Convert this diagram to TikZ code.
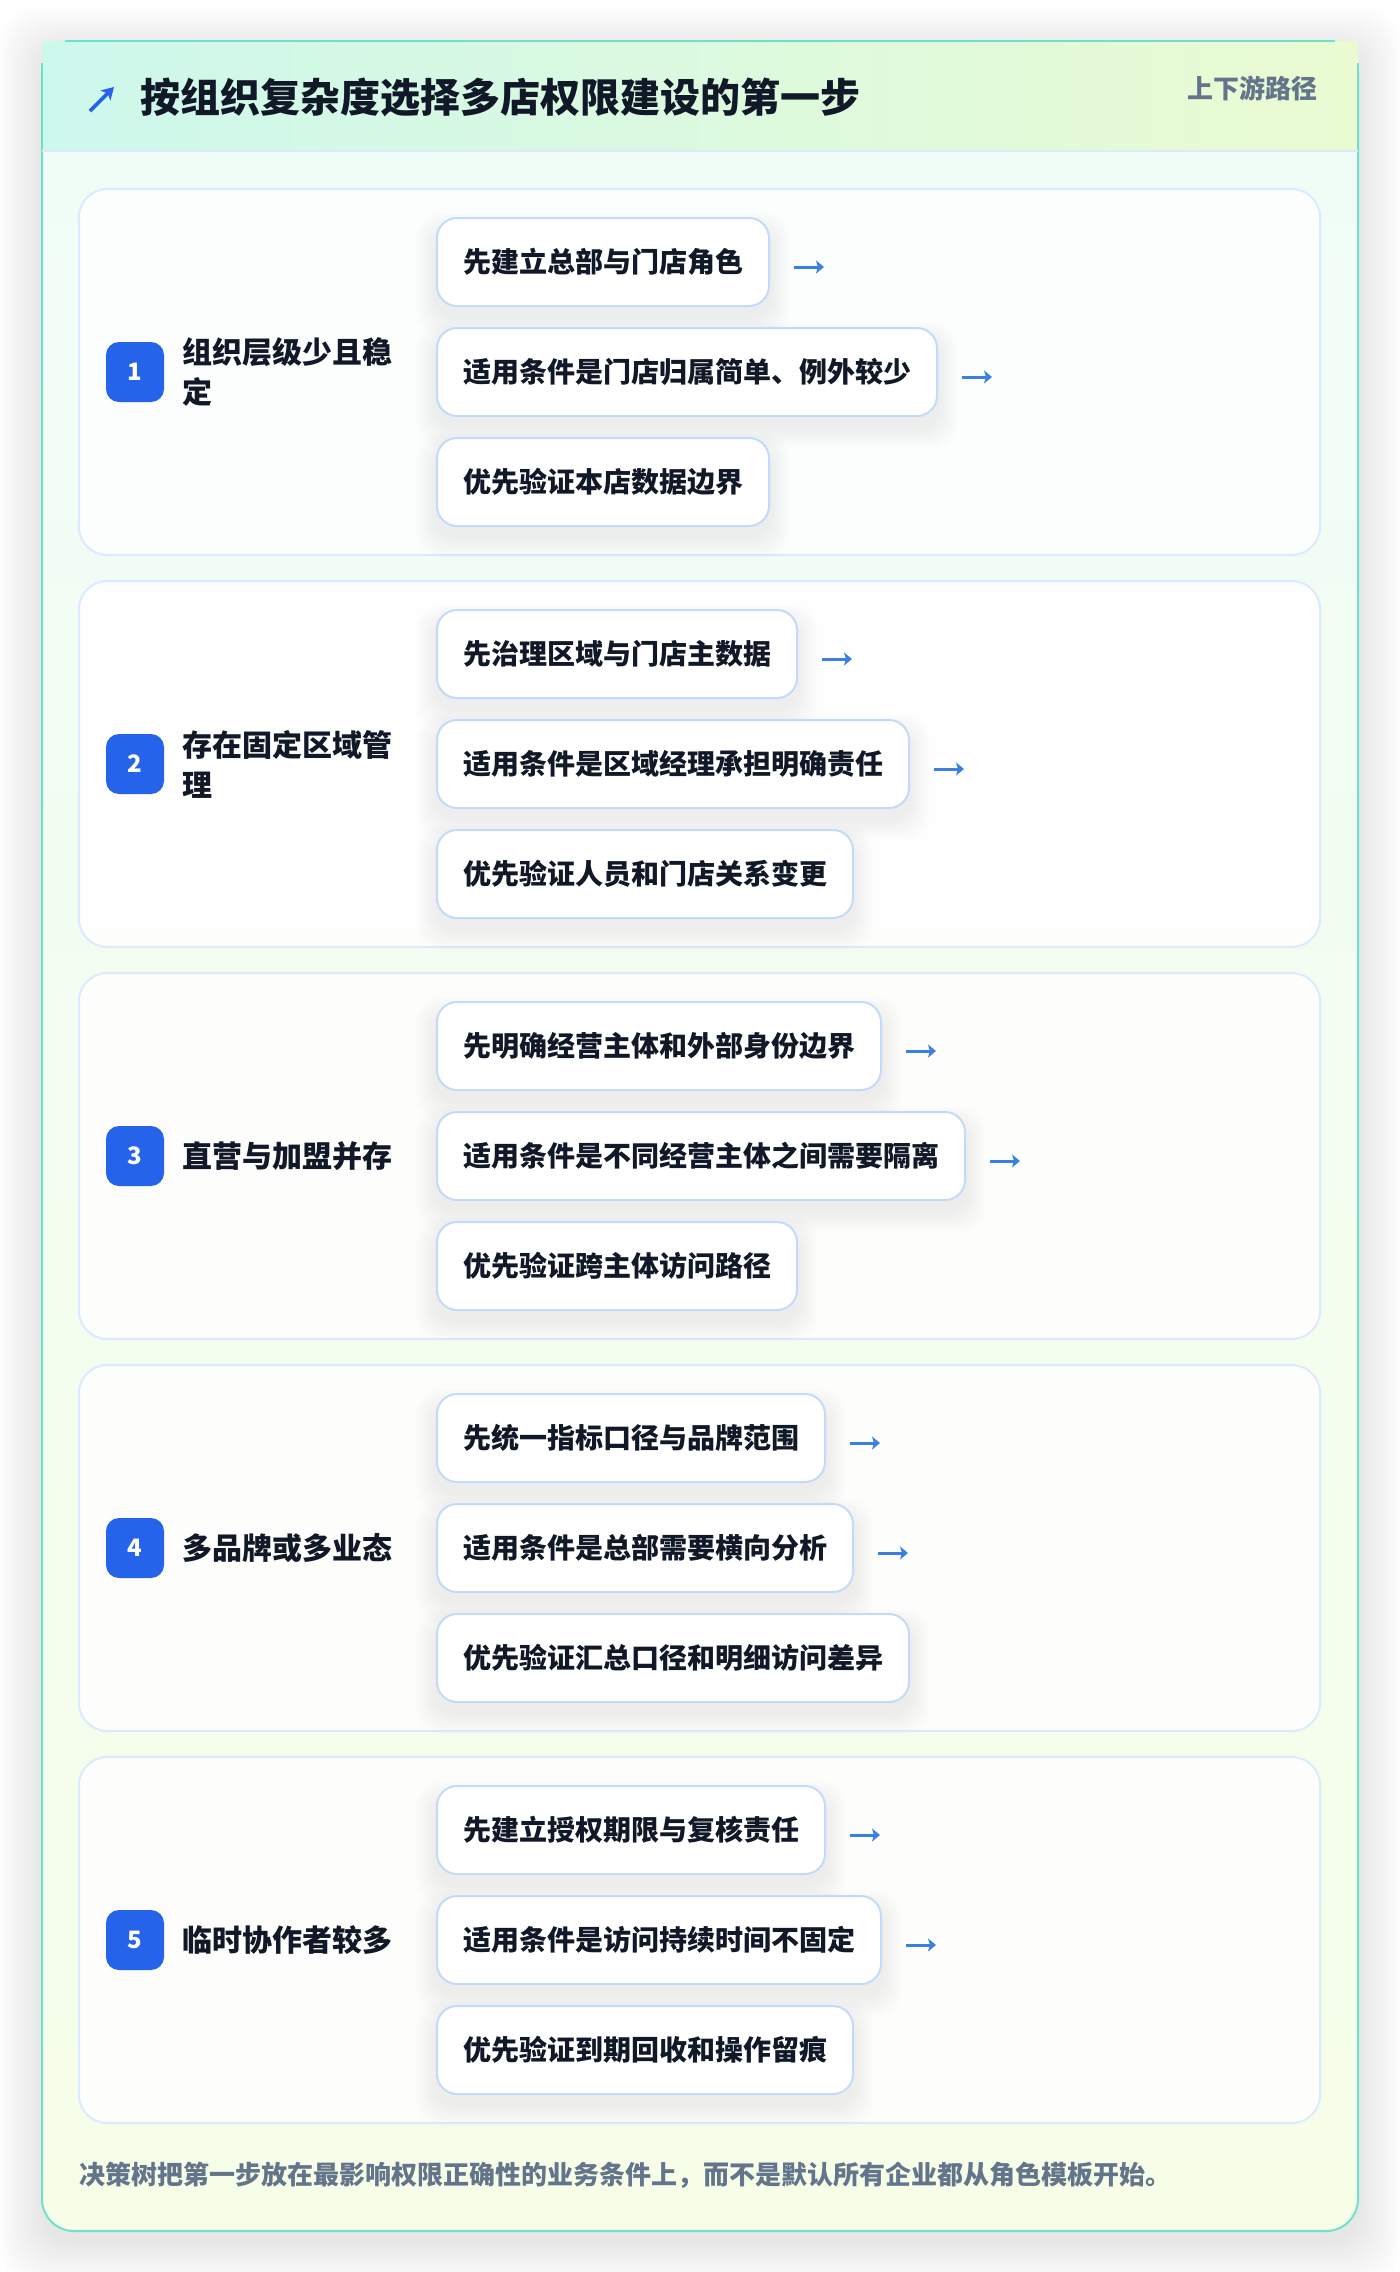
\documentclass[tikz,border=0pt]{standalone}
\usepackage{fontspec}
\setmainfont{Noto Sans CJK SC}
\usetikzlibrary{arrows.meta}
\definecolor{tealb}{HTML}{6EE0CC}
\definecolor{hdrL}{HTML}{CDF8EC}
\definecolor{hdrR}{HTML}{EAFBD2}
\definecolor{bodyT}{HTML}{F0FDF8}
\definecolor{bodyB}{HTML}{F6FEE8}
\definecolor{hdrline}{HTML}{DCEAFB}
\definecolor{cardb}{HTML}{DBEAFE}
\definecolor{optb}{HTML}{C3DAF8}
\definecolor{bluebadge}{HTML}{2563EB}
\definecolor{arrowc}{HTML}{3B7FE4}
\definecolor{inkc}{HTML}{111827}
\definecolor{grayc}{HTML}{64748B}
\definecolor{shadowc}{HTML}{0F172A}
\pgfdeclarelayer{base}
\pgfdeclarelayer{cardl}
\pgfdeclarelayer{shadowl}
\pgfsetlayers{base,cardl,shadowl,main}
\tikzset{
  outerbox/.style={draw=tealb, line width=1pt, rounded corners=16pt, top color=bodyT, bottom color=bodyB},
  cardbox/.style={draw=cardb, line width=1pt, rounded corners=14pt, fill=white, fill opacity=0.85, draw opacity=1},
  optbox/.style={draw=optb, line width=1pt, rounded corners=10pt, fill=white, minimum height=44pt, inner xsep=13pt,
    text height=12.3pt, text depth=1.7pt, text=inkc, font=\bfseries\fontsize{14pt}{16pt}\selectfont, anchor=west},
  badgebox/.style={fill=bluebadge, rounded corners=6.5pt, minimum width=29pt, minimum height=30pt, inner sep=0pt,
    text=white, font=\bfseries\fontsize{12pt}{12pt}\selectfont},
  lbltext/.style={anchor=west, align=left, inner sep=0pt, text=inkc, font=\bfseries\fontsize{15pt}{20pt}\selectfont},
  arrowline/.style={draw=arrowc, line width=1.5pt, -{Stealth[length=4pt,width=6.5pt,inset=1pt]}},
  iconarrow/.style={draw=bluebadge, line width=1.8pt, -{Stealth[length=6pt,width=7pt,inset=1.5pt]}},
}
\newcommand\optshadow[1]{%
  \foreach \k in {1,...,8}{%
    \pgfmathsetmacro\ee{\k*1.2}%
    \pgfmathsetmacro\ylo{-\k*1.3-5}%
    \pgfmathsetmacro\yhi{\k*1.0-6}%
    \fill[shadowc, opacity=0.009, rounded corners=12pt]
      ([xshift=-\ee pt, yshift=\ylo pt]#1.south west) rectangle ([xshift=\ee pt, yshift=\yhi pt]#1.north east);
  }%
}
\newcommand\mkcard[6]{%
  \begin{pgfonlayer}{cardl}
  \path[cardbox] (79,{#2-183}) rectangle (1320,{#2+183});
  \end{pgfonlayer}
  \node[badgebox] (n#1) at (135,#2) {#1};
  \node[lbltext] (l#1) at (182,#2) {#3};
  \node[optbox] (b#1a) at (436,{#2-110}) {#4};
  \node[optbox] (b#1b) at (436,#2) {#5};
  \node[optbox] (b#1c) at (436,{#2+110}) {#6};
  \begin{pgfonlayer}{shadowl}
  \optshadow{b#1a}\optshadow{b#1b}\optshadow{b#1c}
  \end{pgfonlayer}
  \draw[arrowline] ([xshift=12pt,yshift=-2.5pt]b#1a.east) coordinate (s#1a) -- ++(15pt,0) coordinate (e#1a);
  \draw[arrowline] ([xshift=12pt,yshift=-2.5pt]b#1b.east) coordinate (s#1b) -- ++(15pt,0) coordinate (e#1b);
}
\begin{document}
\begin{tikzpicture}[x=0.5pt,y=-0.5pt]
\useasboundingbox (0,0) rectangle (1400,2272);
\begin{pgfonlayer}{base}
\fill[white] (0,0) rectangle (1400,2272);
\foreach \k in {1,...,12}{%
  \pgfmathsetmacro\ee{\k*1.8}%
  \fill[shadowc, opacity=0.007, rounded corners=18pt]
    ([xshift=-\ee pt, yshift=-\ee pt - 5pt]42,2231) rectangle ([xshift=\ee pt, yshift=\ee pt - 5pt]1358,41);
}
\path[outerbox] (42,41) rectangle (1358,2231);
\path[left color=hdrL, right color=hdrR] (42,41) rectangle (1358,150);
\draw[tealb, line width=1.2pt] (65,41) -- (1335,41);
\draw[tealb, line width=1pt] (42,63) -- (42,151) (1358,63) -- (1358,151);
\draw[hdrline, line width=1pt] (42,151) -- (1358,151);
\end{pgfonlayer}
\draw[iconarrow] (90,111) coordinate (ic0) -- (114,87) coordinate (ic1);
\node[anchor=west, inner sep=0pt, text=inkc, font=\bfseries\fontsize{20pt}{22pt}\selectfont, text height=17.6pt, text depth=2.4pt] (title) at (140,97) {按组织复杂度选择多店权限建设的第一步};
\node[anchor=east, inner sep=0pt, text=grayc, font=\bfseries\fontsize{13pt}{14pt}\selectfont, text height=11.4pt, text depth=1.6pt] (tag) at (1318,89) {上下游路径};
\mkcard{1}{372}{组织层级少且稳\\定}{先建立总部与门店角色}{适用条件是门店归属简单、例外较少}{优先验证本店数据边界}
\mkcard{2}{764}{存在固定区域管\\理}{先治理区域与门店主数据}{适用条件是区域经理承担明确责任}{优先验证人员和门店关系变更}
\mkcard{3}{1156}{直营与加盟并存}{先明确经营主体和外部身份边界}{适用条件是不同经营主体之间需要隔离}{优先验证跨主体访问路径}
\mkcard{4}{1548}{多品牌或多业态}{先统一指标口径与品牌范围}{适用条件是总部需要横向分析}{优先验证汇总口径和明细访问差异}
\mkcard{5}{1940}{临时协作者较多}{先建立授权期限与复核责任}{适用条件是访问持续时间不固定}{优先验证到期回收和操作留痕}
\node[anchor=west, inner sep=0pt, text=grayc, font=\bfseries\fontsize{13pt}{14pt}\selectfont, text height=11.4pt, text depth=1.6pt] (foot) at (79,2175) {决策树把第一步放在最影响权限正确性的业务条件上，而不是默认所有企业都从角色模板开始。};
\end{tikzpicture}
\end{document}
